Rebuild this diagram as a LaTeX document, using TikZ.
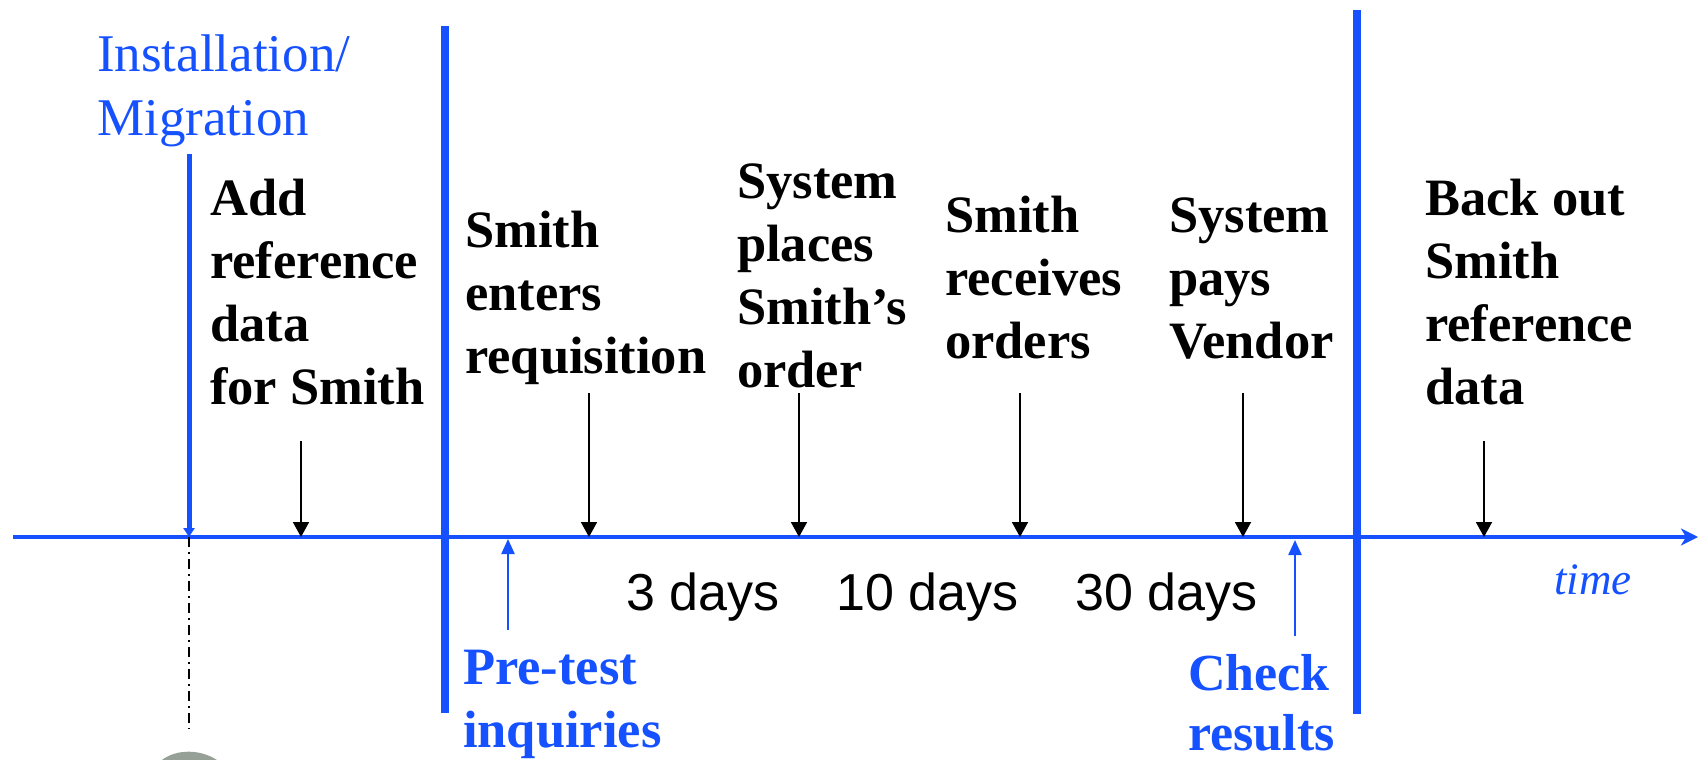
\documentclass[tikz,border=0pt]{standalone}
\usepackage{fontspec}
\setmainfont{Liberation Serif}
\newfontfamily\arialfont{Liberation Sans}
\usetikzlibrary{arrows.meta}
\definecolor{ablue}{RGB}{21,81,255}
\definecolor{clipgrey}{RGB}{150,160,150}
\newcommand\stk[1]{\vtop{\halign{##\hfil\cr#1\crcr}}}
\begin{document}
\begin{tikzpicture}[x=1pt,y=-1pt,
  lbl/.style={anchor=base west, inner sep=0pt, font=\fontsize{52.5}{63}\selectfont\bfseries},
  bluelbl/.style={lbl, text=ablue},
  chklbl/.style={anchor=base west, inner sep=0pt, text=ablue, font=\fontsize{52}{60}\selectfont\bfseries},
  instlbl/.style={anchor=base west, inner sep=0pt, text=ablue, font=\fontsize{53}{64}\selectfont},
  dayslbl/.style={anchor=base west, inner sep=0pt, font=\arialfont\fontsize{52}{60}\selectfont},
  timelbl/.style={anchor=base west, inner sep=0pt, text=ablue, font=\fontsize{45}{54}\selectfont\itshape},
  axisline/.style={draw=ablue, line width=4.5pt, -{Stealth[length=17pt,width=17pt,inset=5pt]}},
  phase/.style={draw=ablue, line width=8pt},
  evt/.style={draw=black, line width=1.8pt, -{Triangle[width=16pt,length=15pt]}},
  blueup/.style={draw=ablue, line width=2.3pt, -{Triangle[width=13pt,length=15pt]}},
  instline/.style={draw=ablue, line width=5pt, -{Triangle[width=11pt,length=9pt]}},
  dashdot/.style={draw=black, line width=2pt, dash pattern=on 10pt off 5pt on 2pt off 5pt}
]
\useasboundingbox (0,0) rectangle (1698,760);
\clip (0,0) rectangle (1698,760);

% partial clip-art fragment at bottom left
\fill[clipgrey, rotate around={-10:(192,785)}] (192,785) ellipse [x radius=42, y radius=33];

% phase separators
\coordinate (s1t) at (445,26);  \coordinate (s1b) at (445,713);
\coordinate (s2t) at (1357,10); \coordinate (s2b) at (1357,714);
\draw[phase] (s1t) -- (s1b);
\draw[phase] (s2t) -- (s2b);

% time axis
\coordinate (axL) at (13,537);
\coordinate (axR) at (1698,537);
\draw[axisline] (axL) -- (axR);

% installation marker
\coordinate (inst) at (189,154);
\coordinate (instA) at (189,537);
\coordinate (instD) at (189,729);
\draw[dashdot] (instA) -- (instD);
\draw[instline] (inst) -- (instA);

% labels
\node[instlbl] (lInst) at (97,71) {\stk{Installation/\cr Migration}};
\node[lbl] (lAdd) at (210,215) {\stk{Add\cr reference\cr data\cr for Smith}};
\node[lbl] (lReq) at (465,247) {\stk{Smith\cr enters\cr requisition}};
\node[lbl] (lOrd) at (737,198) {\stk{System\cr places\cr Smith’s\cr order}};
\node[lbl] (lRec) at (945,232) {\stk{Smith\cr receives\cr orders}};
\node[lbl] (lPay) at (1169,232) {\stk{System\cr pays\cr Vendor}};
\node[lbl] (lBack) at (1425,215) {\stk{Back out\cr Smith\cr reference\cr data}};
\node[bluelbl] (lPre) at (463,684) {\stk{Pre-test\cr inquiries}};
\node[chklbl] (lChk) at (1188,690) {\stk{Check\cr results}};
\node[dayslbl] (d3) at (626,610) {3 days};
\node[dayslbl] (d10) at (836,610) {10 days};
\node[dayslbl] (d30) at (1075,610) {30 days};
\node[timelbl] (lTime) at (1554,594) {time};

% event arrows
\coordinate (e1) at (301,441);  \coordinate (e1a) at (301,537);
\coordinate (e2) at (589,393);  \coordinate (e2a) at (589,537);
\coordinate (e3) at (799,393);  \coordinate (e3a) at (799,537);
\coordinate (e4) at (1020,393); \coordinate (e4a) at (1020,537);
\coordinate (e5) at (1243,393); \coordinate (e5a) at (1243,537);
\coordinate (e6) at (1484,441); \coordinate (e6a) at (1484,537);
\draw[evt] (e1) -- (e1a);
\draw[evt] (e2) -- (e2a);
\draw[evt] (e3) -- (e3a);
\draw[evt] (e4) -- (e4a);
\draw[evt] (e5) -- (e5a);
\draw[evt] (e6) -- (e6a);

% check arrows
\coordinate (p1) at (508,630);  \coordinate (p1a) at (508,539);
\coordinate (c1) at (1295,636); \coordinate (c1a) at (1295,540);
\draw[blueup] (p1) -- (p1a);
\draw[blueup] (c1) -- (c1a);
\end{tikzpicture}
\end{document}
